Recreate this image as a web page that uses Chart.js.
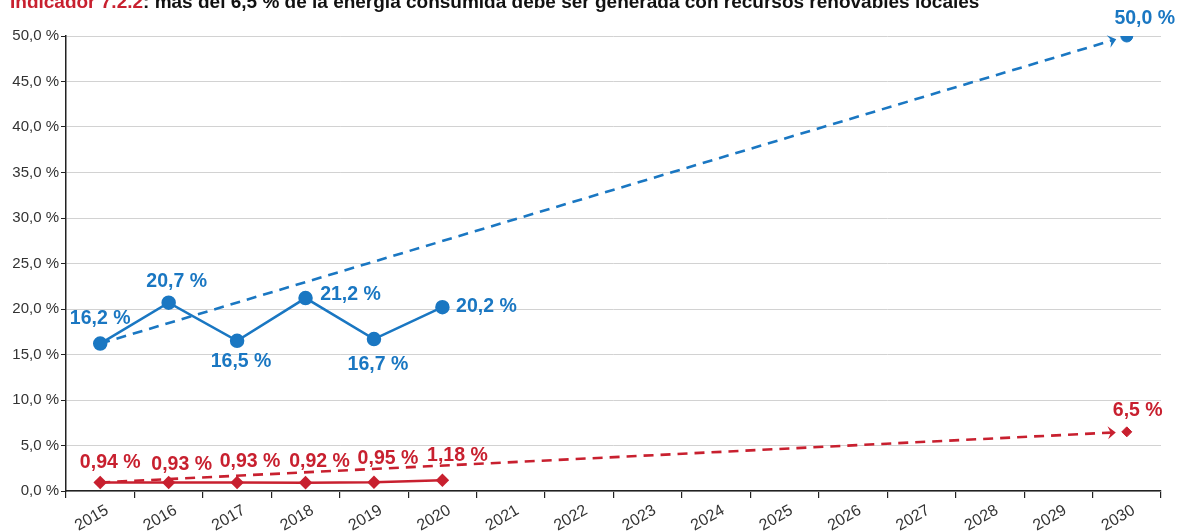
<!DOCTYPE html>
<html>
<head>
<meta charset="utf-8">
<script src="https://cdn.jsdelivr.net/npm/chart.js@4.4.1/dist/chart.umd.min.js"></script>
<style>
  html, body { margin: 0; padding: 0; background: #fff; overflow: hidden; }
  #wrap { position: relative; width: 1177px; height: 532px; }
  #title { position: absolute; left: 10px; top: -9px; font: bold 19px "Liberation Sans", Arial, sans-serif; color: #111; white-space: nowrap; }
  #title span { color: #c8202f; }
  canvas { position: absolute; left: 0; top: 0; }
</style>
</head>
<body>
<div id="wrap">
  <canvas id="chart" width="1177" height="532"></canvas>
  <div id="title"><span>Indicador 7.2.2</span>: más del 6,5 % de la energía consumida debe ser generada con recursos renovables locales</div>
</div>
<script>
// Energías renovables: evolución 2015-2020 y objetivo 2030

const years = ['2015', '2016', '2017', '2018', '2019', '2020', '2021', '2022',
               '2023', '2024', '2025', '2026', '2027', '2028', '2029', '2030'];
const renewShare = [16.2, 20.7, 16.5, 21.2, 16.7, 20.2];     // % renovables (azul)
const renewGoal = [16.2, 50.0];                              // 2015 -> objetivo 2030
const localShare = [0.94, 0.93, 0.93, 0.92, 0.95, 1.18];     // % renovables locales (rojo)
const localGoal = [0.94, 6.5];                               // 2015 -> objetivo 2030
const yTicks = [0, 5, 10, 15, 20, 25, 30, 35, 40, 45, 50];

const BLUE = '#1a77c2';
const RED = '#c8202f';

// label offsets (px) from each point, centre of text
const renewLabelPos = [[0, -25], [8, -21], [4, 21], [45, -3], [4, 26], [44, -1]];
const localLabelPos = [[10, -20], [13, -18], [13, -21], [14, -21], [14, -24], [15, -25]];
const goalLabelPos = { blue: [18, -17], red: [11, -21] };

function goalSeries(pair) {
  return years.map((y, i) => i === 0 ? pair[0] : (i === years.length - 1 ? pair[1] : null));
}

function fmt(v, dec) {
  return v.toFixed(dec).replace('.', ',') + ' %';
}

// dashed projection with arrow head, drawn between first and last point of the goal series
const arrowPlugin = {
  id: 'goalArrow',
  beforeDatasetsDraw(chart) {
    const ctx = chart.ctx;
    chart.data.datasets.forEach((ds, di) => {
      if (!ds.goal) return;
      const pts = chart.getDatasetMeta(di).data;
      const a = pts[0], b = pts[pts.length - 1];
      const ang = Math.atan2(b.y - a.y, b.x - a.x);
      const gap = 11;
      const ex = b.x - Math.cos(ang) * gap, ey = b.y - Math.sin(ang) * gap;
      ctx.save();
      ctx.strokeStyle = ds.borderColor;
      ctx.lineWidth = 2.6;
      ctx.setLineDash([10, 7]);
      ctx.beginPath();
      ctx.moveTo(a.x, a.y);
      ctx.lineTo(ex - Math.cos(ang) * 4, ey - Math.sin(ang) * 4);
      ctx.stroke();
      ctx.setLineDash([]);
      // arrow head (chevron)
      ctx.translate(ex, ey);
      ctx.rotate(ang);
      ctx.fillStyle = ds.borderColor;
      ctx.beginPath();
      ctx.moveTo(0, 0);
      ctx.lineTo(-8, -6.5);
      ctx.lineTo(-5, 0);
      ctx.lineTo(-8, 6.5);
      ctx.closePath();
      ctx.fill();
      ctx.restore();
    });
  }
};

const labelPlugin = {
  id: 'pointLabels',
  afterDatasetsDraw(chart) {
    const ctx = chart.ctx;
    ctx.save();
    ctx.font = 'bold 19.5px "Liberation Sans", Arial, sans-serif';
    ctx.textAlign = 'center';
    ctx.textBaseline = 'middle';
    chart.data.datasets.forEach((ds, di) => {
      if (!ds.labelPos) return;
      const pts = chart.getDatasetMeta(di).data;
      ctx.fillStyle = ds.borderColor;
      ds.data.forEach((v, i) => {
        if (v === null || v === undefined) return;
        const off = ds.labelPos(i);
        if (!off) return;
        ctx.fillText(fmt(v, ds.decimals), pts[i].x + off[0], pts[i].y + off[1]);
      });
    });
    ctx.restore();
  }
};

const lastIdx = years.length - 1;

new Chart(document.getElementById('chart'), {
  type: 'line',
  data: {
    labels: years,
    datasets: [
      {
        label: 'Objetivo renovables',
        data: goalSeries(renewGoal),
        goal: true,
        showLine: false,
        borderColor: BLUE,
        backgroundColor: BLUE,
        pointRadius: ctx => ctx.dataIndex === lastIdx ? 6 : 0,
        pointStyle: 'circle',
        decimals: 1,
        labelPos: i => i === lastIdx ? goalLabelPos.blue : null
      },
      {
        label: 'Objetivo locales',
        data: goalSeries(localGoal),
        goal: true,
        showLine: false,
        borderColor: RED,
        backgroundColor: RED,
        pointRadius: ctx => ctx.dataIndex === lastIdx ? 5 : 0,
        pointStyle: 'rectRot',
        decimals: 1,
        labelPos: i => i === lastIdx ? goalLabelPos.red : null
      },
      {
        label: 'Renovables',
        data: renewShare,
        borderColor: BLUE,
        backgroundColor: BLUE,
        borderWidth: 2.5,
        pointRadius: 6,
        pointStyle: 'circle',
        tension: 0,
        decimals: 1,
        labelPos: i => renewLabelPos[i]
      },
      {
        label: 'Renovables locales',
        data: localShare,
        borderColor: RED,
        backgroundColor: RED,
        borderWidth: 2.5,
        pointRadius: 5,
        pointStyle: 'rectRot',
        tension: 0,
        decimals: 2,
        labelPos: i => localLabelPos[i]
      }
    ]
  },
  options: {
    responsive: false,
    animation: false,
    spanGaps: true,
    layout: { padding: { top: 36, right: 16, left: 0, bottom: 0 } },
    plugins: {
      legend: { display: false },
      tooltip: { enabled: false }
    },
    scales: {
      x: {
        offset: true,
        grid: { offset: true, drawOnChartArea: false, drawTicks: true, tickLength: 7, color: '#222', lineWidth: 1.2 },
        border: { color: '#222', width: 1.5 },
        ticks: {
          color: '#333',
          font: { size: 16, family: '"Liberation Sans", Arial, sans-serif' },
          minRotation: 30, maxRotation: 30,
          autoSkip: false,
          labelOffset: 7,
          padding: 3
        },
        afterFit: s => { s.height = 41; }
      },
      y: {
        min: 0, max: 50,
        afterBuildTicks: s => { s.ticks = yTicks.map(v => ({ value: v })); },
        grid: { color: '#d2d2d2', lineWidth: 1, tickLength: 5, tickColor: '#222' },
        border: { color: '#222', width: 1.5 },
        ticks: {
          color: '#333',
          padding: 2,
          font: { size: 15, family: '"Liberation Sans", Arial, sans-serif' },
          callback: v => v.toFixed(1).replace('.', ',') + ' %'
        },
        afterFit: s => { s.width = 66; }
      }
    }
  },
  plugins: [arrowPlugin, labelPlugin]
});
</script>
</body>
</html>
